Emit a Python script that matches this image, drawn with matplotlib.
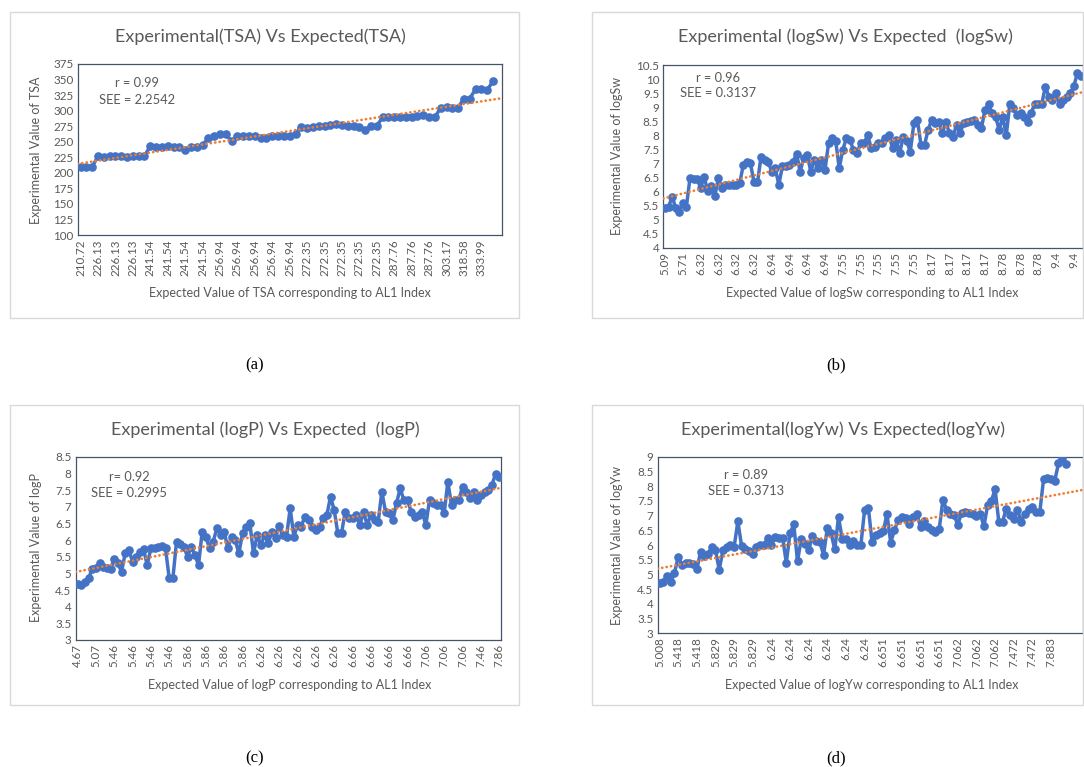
import numpy as np
import matplotlib
matplotlib.use('Agg')
import matplotlib.pyplot as plt
from matplotlib.patches import Rectangle

# ---------------- data ----------------
# (a) TSA, one label every 3 points
tsa_vals = [209.5, 209.5, 210, 226.5, 225.5, 226.5, 227, 226.5, 225, 227, 226.5, 227,
            243, 242, 242, 243, 242, 242, 236, 242, 242, 244,
            256.5, 260, 262, 262, 251, 259, 260, 259, 260, 256.5, 256.5, 260, 260, 260, 260, 263,
            274, 272.5, 274, 275, 276, 277, 278, 277, 275, 275, 274, 269, 275, 276,
            289, 289, 289.5, 290, 290.5, 290.5, 291.5, 292.5, 290.5, 289,
            305, 306, 305, 305, 319.5, 319.5, 334.5, 334.5, 333.5, 347]
tsa_ticks = ['210.72', '226.13', '226.13', '226.13', '241.54', '241.54', '241.54', '241.54',
             '256.94', '256.94', '256.94', '256.94', '256.94', '272.35', '272.35', '272.35',
             '272.35', '272.35', '287.76', '287.76', '287.76', '303.17', '318.58', '333.99']

# (b) logSw, one label every 5 points
sw_vals = [5.40, 5.46, 5.82, 5.40, 5.28, 5.58, 5.46, 6.47, 6.45, 6.45,
           6.12, 6.53, 6.00, 6.18, 5.84, 6.47, 6.12, 6.24, 6.22, 6.24,
           6.24, 6.29, 6.95, 7.06, 7.01, 6.35, 6.32, 7.24, 7.12, 7.06,
           6.71, 6.83, 6.24, 6.89, 6.89, 6.95, 7.06, 7.34, 6.71, 7.18,
           7.30, 6.71, 7.12, 6.83, 7.12, 6.77, 7.72, 7.89, 7.80, 6.83,
           7.48, 7.89, 7.83, 7.48, 7.36, 7.72, 7.72, 8.01, 7.54, 7.60,
           7.72, 7.72, 7.89, 8.01, 7.54, 7.83, 7.36, 7.95, 7.78, 7.42,
           8.43, 8.54, 7.66, 7.66, 8.19, 8.54, 8.43, 8.48, 8.07, 8.48,
           8.07, 7.95, 8.37, 8.07, 8.43, 8.48, 8.50, 8.54, 8.37, 8.25,
           8.90, 9.13, 8.78, 8.66, 8.19, 8.66, 8.01, 9.13, 8.96, 8.72,
           8.78, 8.66, 8.48, 8.78, 9.13, 9.13, 9.13, 9.73, 9.37, 9.25,
           9.49, 9.13, 9.25, 9.37, 9.49, 9.75, 10.20, 10.10]
sw_ticks = ['5.09', '5.71', '6.32', '6.32', '6.32', '6.32', '6.94', '6.94', '6.94', '6.94',
            '7.55', '7.55', '7.55', '7.55', '7.55', '8.17', '8.17', '8.17', '8.17',
            '8.78', '8.78', '8.78', '9.4', '9.4']

# (c) logP, one label every 5 points
logp_vals = [4.67, 4.65, 4.75, 4.85, 5.13, 5.17, 5.30, 5.20, 5.15, 5.13,
             5.43, 5.30, 5.05, 5.60, 5.70, 5.35, 5.50, 5.65, 5.73, 5.25,
             5.75, 5.75, 5.80, 5.83, 5.75, 4.85, 4.85, 5.95, 5.87, 5.80,
             5.50, 5.80, 5.55, 5.25, 6.25, 6.10, 5.75, 5.95, 6.35, 6.15,
             6.25, 5.75, 6.10, 6.00, 5.60, 6.20, 6.40, 6.50, 5.60, 6.15,
             5.85, 6.15, 5.90, 6.25, 6.05, 6.43, 6.15, 6.10, 6.95, 6.10,
             6.45, 6.40, 6.70, 6.60, 6.40, 6.30, 6.40, 6.65, 6.75, 7.30,
             6.90, 6.20, 6.20, 6.85, 6.65, 6.65, 6.75, 6.45, 6.85, 6.45,
             6.75, 6.60, 6.55, 7.45, 6.85, 6.80, 6.60, 7.10, 7.55, 7.20,
             7.20, 6.85, 6.70, 6.75, 6.85, 6.45, 7.20, 7.10, 7.05, 7.05,
             6.80, 7.75, 7.05, 7.20, 7.20, 7.60, 7.45, 7.25, 7.45, 7.20,
             7.35, 7.45, 7.50, 7.65, 7.97, 7.90]
logp_ticks = ['4.67', '5.07', '5.46', '5.46', '5.46', '5.46', '5.86', '5.86', '5.86', '5.86',
              '6.26', '6.26', '6.26', '6.26', '6.26', '6.66', '6.66', '6.66', '6.66',
              '7.06', '7.06', '7.06', '7.46', '7.86']

# (d) logYw, one label every 5 points
yw_vals = [4.70, 4.75, 4.95, 4.75, 5.05, 5.60, 5.33, 5.38, 5.38, 5.35,
           5.17, 5.77, 5.63, 5.70, 5.92, 5.83, 5.15, 5.83, 5.94, 6.00,
           5.94, 6.80, 5.97, 5.88, 5.80, 5.70, 5.94, 6.00, 6.00, 6.25,
           6.00, 6.28, 6.25, 6.25, 5.40, 6.40, 6.70, 5.45, 6.20, 6.05,
           5.83, 6.30, 6.15, 6.10, 5.67, 6.58, 6.40, 5.85, 6.95, 6.20,
           6.20, 6.00, 6.14, 6.00, 6.00, 7.20, 7.27, 6.10, 6.33, 6.40,
           6.46, 7.05, 6.08, 6.51, 6.85, 6.95, 6.92, 6.73, 6.96, 7.07,
           6.60, 6.82, 6.62, 6.51, 6.45, 6.53, 7.53, 7.20, 7.07, 7.02,
           6.68, 7.10, 7.13, 7.10, 7.07, 6.98, 7.07, 6.64, 7.35, 7.50,
           7.89, 6.79, 6.79, 7.24, 7.02, 6.90, 7.19, 6.79, 7.07, 7.24,
           7.30, 7.13, 7.13, 8.23, 8.27, 8.23, 8.18, 8.77, 8.94, 8.75]
yw_ticks = ['5.008', '5.418', '5.418', '5.829', '5.829', '5.829', '6.24', '6.24', '6.24',
            '6.24', '6.24', '6.24', '6.651', '6.651', '6.651', '6.651', '7.062', '7.062',
            '7.062', '7.472', '7.472', '7.883']

# ---------------- drawing ----------------
W, H = 1084, 767
fig = plt.figure(figsize=(W / 100, H / 100), dpi=100)
plt.rcParams['font.family'] = ['Lato', 'DejaVu Sans']

GREY = '#595959'
BLUE = '#4472C4'
ORANGE = '#ED7D31'


def fx(x):
    return x / W


def fy(y):
    return 1 - y / H


def panel(box, plot, vals, ticks, step, n_cat, ylim, ystep, title, ylabel, xlabel,
          stats, stats_xy, caption, cap_xy):
    # light frame of the chart object
    l, t, r, b = box
    fig.patches.append(Rectangle((fx(l), fy(b)), fx(r - l), (b - t) / H,
                                 transform=fig.transFigure, fill=False,
                                 edgecolor='#D9D9D9', lw=1))
    pl, pt, pr, pb = plot
    ax = fig.add_axes([fx(pl), fy(pb), fx(pr - pl), (pb - pt) / H])
    x = np.arange(len(vals))
    ax.plot(x, vals, color=BLUE, lw=2.5, marker='o', ms=5.2, zorder=3)

    # linear trendline
    coef = np.polyfit(x, vals, 1)
    xt = np.array([-0.5, n_cat - 0.5])
    ax.plot(xt, np.polyval(coef, xt), color=ORANGE, lw=1.9,
            linestyle=(0, (0.1, 1.6)), dash_capstyle='round', zorder=4)

    ax.set_xlim(-0.5, n_cat - 0.5)
    ax.set_ylim(*ylim)
    ax.set_yticks(np.arange(ylim[0], ylim[1] + ystep / 2, ystep))
    ax.yaxis.set_major_formatter(matplotlib.ticker.FormatStrFormatter('%g'))
    ax.set_xticks(np.arange(len(ticks)) * step)
    ax.set_xticklabels(ticks, rotation=90)
    ax.tick_params(length=0, labelsize=8.4, labelcolor=GREY, pad=3)
    for s in ax.spines.values():
        s.set_color('#44546A')
        s.set_linewidth(0.9)

    fig.text(fx(title[1]), fy(title[2]), title[0], ha='center', va='center',
             fontsize=13, color=GREY)
    fig.text(fx(ylabel[1]), fy(ylabel[2]), ylabel[0], ha='center', va='center',
             rotation=90, fontsize=9, color=GREY)
    fig.text(fx(xlabel[1]), fy(xlabel[2]), xlabel[0], ha='center', va='center',
             fontsize=9, color=GREY)
    fig.text(fx(stats_xy[0]), fy(stats_xy[1]), stats[0], ha='center', va='center',
             fontsize=9.3, color=GREY)
    fig.text(fx(stats_xy[0]), fy(stats_xy[2]), stats[1], ha='center', va='center',
             fontsize=9.3, color=GREY)
    fig.text(fx(cap_xy[0]), fy(cap_xy[1]), caption, ha='center', va='center',
             fontsize=12, color='black', family=['Liberation Serif', 'DejaVu Serif'])
    return ax


panel((10, 12, 519, 318), (77.7, 64, 501.7, 235), tsa_vals, tsa_ticks, 3, 73,
      (100, 375), 25,
      ('Experimental(TSA) Vs Expected(TSA)', 260, 37),
      ('Experimental Value of TSA', 36, 150),
      ('Expected Value of TSA corresponding to AL1 Index', 290, 293),
      ('r = 0.99', 'SEE = 2.2542'), (137, 83, 100), '(a)', (255, 365))

panel((592, 12, 1083, 318), (663.3, 65, 1082.7, 247.7), sw_vals, sw_ticks, 5, 118,
      (4, 10.5), 0.5,
      ('Experimental (logSw) Vs Expected  (logSw)', 845, 37),
      ('Experimental Value of logSw', 617, 156),
      ('Expected Value of logSw corresponding to AL1 Index', 872, 293),
      ('r = 0.96', 'SEE = 0.3137'), (718, 78, 93), '(b)', (836, 365))

panel((10, 405, 519, 705), (75.7, 456.7, 501, 640), logp_vals, logp_ticks, 5, 116,
      (3, 8.5), 0.5,
      ('Experimental (logP) Vs Expected  (logP)', 265, 430),
      ('Experimental Value of logP', 36, 548),
      ('Expected Value of logP corresponding to AL1 Index', 290, 685),
      ('r= 0.92', 'SEE = 0.2995'), (129, 477, 493), '(c)', (255, 758))

panel((592, 405, 1083, 705), (657.7, 456.7, 1082.7, 633.3), yw_vals, yw_ticks, 5, 114,
      (3, 9), 0.5,
      ('Experimental(logYw) Vs Expected(logYw)', 843, 430),
      ('Experimental Value of logYw', 617, 545),
      ('Expected Value of logYw corresponding to AL1 Index', 872, 685),
      ('r = 0.89', 'SEE = 0.3713'), (746, 475, 491), '(d)', (836, 758))

fig.savefig('out.png', dpi=100)
